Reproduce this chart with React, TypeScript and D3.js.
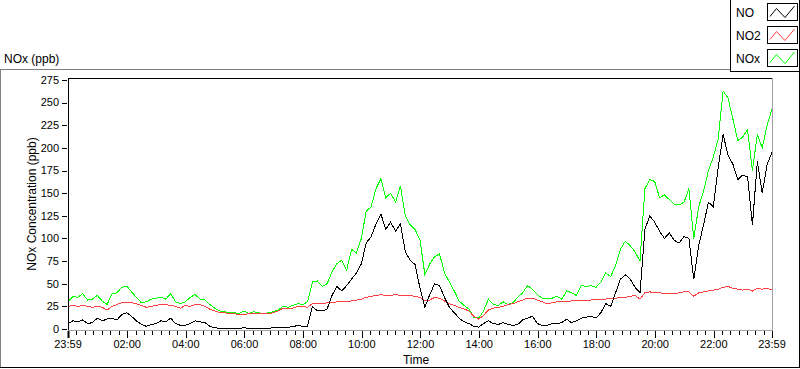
import React from 'react';
import * as d3 from 'd3';

// readings every 10 minutes, from 23:59 the day before to 23:59
const sampleMinutes = 10;
const startTime = new Date(2024, 0, 1, 23, 59);
const endTime = new Date(2024, 0, 2, 23, 59);

const noValues = [
  6, 9, 8, 10, 6, 7, 12, 9, 11, 12, 10, 16, 18, 14, 9, 5, 3, 5, 6, 9, 8, 12, 6, 4, 4,
  6, 9, 8, 7, 3, 1.5, 0.5, 0.3, 0.3, 0.3, 0.5, 1.5, 0.3, 0.3, 0.3, 0.5, 0.5, 1.5, 1.5, 2, 2, 2.5, 4, 3,
  3, 25, 20, 20, 22, 37, 47, 42, 48, 55, 62, 72, 95, 102, 116, 127, 110, 118, 108, 116, 85, 76, 71, 45, 24, 38,
  50, 48, 35, 24, 18, 12, 8, 6, 3, 2, 6, 9, 6, 5, 7, 5, 4, 5, 10, 12, 14, 6, 4, 4,
  6, 6, 7, 11, 7, 9, 12, 13, 14, 12, 18, 28, 25, 40, 55, 60, 55, 46, 40, 110, 125, 118, 108, 100, 106,
  98, 95, 102, 100, 55, 92, 115, 140, 135, 178, 215, 192, 182, 165, 170, 168, 115, 185, 150, 182, 195,
];

const no2Values = [
  25, 26, 25, 26, 25, 24, 25, 24, 21, 25, 27, 29, 29, 29, 28, 26, 24, 25, 26, 27, 27, 26, 25, 23, 26,
  25, 27, 27, 25, 22, 20, 18, 18, 17, 17, 16, 16, 17, 17, 17, 17, 17, 18, 20, 23, 23, 23, 25, 25,
  24, 28, 28, 28, 29, 29, 30, 30, 30, 31, 32, 33, 35, 36, 37, 38, 37, 37, 38, 37, 37, 37, 36, 35, 31, 32,
  35, 34, 31, 28, 26, 24, 22, 20, 14, 11, 15, 21, 23, 24, 25, 27, 28, 30, 32, 34, 34, 32, 30, 28,
  29, 30, 30, 30, 31, 31, 32, 32, 32, 33, 33, 33, 34, 34, 35, 35, 36, 37, 33, 40, 41, 40, 40, 39, 39,
  39, 40, 41, 41, 36, 40, 41, 42, 43, 44, 46, 47, 45, 44, 43, 44, 42, 45, 44, 45, 43,
];

const noxValues = [
  30, 36, 35, 39, 32, 33, 37, 31, 27, 39, 40, 46, 47.5, 41, 35, 29, 30, 33, 34, 35, 33, 39, 30, 28, 30,
  35, 38, 33, 32, 27, 23, 20, 19, 18, 18, 17, 20, 17, 19, 18, 17, 18, 19, 21, 25, 24, 26, 28, 27,
  30, 52, 53, 47, 50, 63, 72, 76, 65, 88, 84, 100, 130, 135, 155, 166, 145, 150, 140, 158, 125, 115, 110, 98, 60, 72,
  80, 83, 62, 52, 42, 31, 26, 22, 13, 12, 20, 33, 27, 26, 30, 27, 29, 35, 40, 48, 44, 38, 34, 34,
  34, 36, 33, 42, 40, 37, 48, 47, 48, 46, 52, 62, 58, 70, 88, 97, 92, 85, 75, 155, 165, 163, 145, 148, 143,
  138, 137, 140, 155, 100, 135, 152, 175, 190, 210, 263, 255, 232, 208, 212, 220, 175, 215, 200, 225, 243,
];

const yTicks = [0, 25, 50, 75, 100, 125, 150, 175, 200, 225, 250, 275];
const xTickLabels = ['23:59', '02:00', '04:00', '06:00', '08:00', '10:00', '12:00', '14:00', '16:00', '18:00', '20:00', '22:00', '23:59'];

const seriesNames = ['NO', 'NO2', 'NOx'];
const seriesColors = ['#000000', '#ff4040', '#00ff00'];

const font = '"Liberation Sans", Arial, sans-serif';

export default function App() {
  const plot = { left: 68, right: 772, top: 78, bottom: 330 };

  const x = d3.scaleTime().domain([startTime, endTime]).range([plot.left, plot.right]);
  const y = d3.scaleLinear().domain([0, 275]).range([329, 80]);

  const timeAt = (i: number) => d3.timeMinute.offset(startTime, i * sampleMinutes);
  const line = d3.line<number>()
    .x((_, i) => x(timeAt(i)))
    .y(d => y(d));

  // major ticks: first and last are the window ends, the rest are clock times
  const majorTimes = xTickLabels.map((lab, i) => {
    if (i === 0) return startTime;
    if (i === xTickLabels.length - 1) return endTime;
    const [h, m] = lab.split(':').map(Number);
    return new Date(2024, 0, 2, h, m);
  });
  const minorTimes: Date[] = [];
  for (let k = 0; k < majorTimes.length - 1; k++) {
    const a = +majorTimes[k], b = +majorTimes[k + 1];
    for (let j = 1; j < 7; j++) minorTimes.push(new Date(a + (b - a) * j / 7));
  }

  // NOx underneath, then NO2, NO on top
  const series = [noxValues, no2Values, noValues];
  const colorsDrawn = [seriesColors[2], seriesColors[1], seriesColors[0]];

  return (
    <svg width={800} height={369} style={{ position: 'fixed', left: 0, top: 0, display: 'block', background: '#fff' }}
      fontFamily={font}>
      <defs>
        <clipPath id="plotClip">
          <rect x={plot.left} y={plot.top} width={plot.right - plot.left} height={plot.bottom - plot.top} />
        </clipPath>
      </defs>

      {/* outer frame */}
      <line x1={0} y1={69.5} x2={730} y2={69.5} stroke="#808080" />
      <line x1={0.5} y1={69} x2={0.5} y2={367} stroke="#808080" />
      <line x1={0} y1={367.5} x2={800} y2={367.5} stroke="#000" />
      <line x1={799.5} y1={0} x2={799.5} y2={368} stroke="#000" />

      <text x={4} y={63} fontSize={12} fill="#000">NOx (ppb)</text>

      {/* legend */}
      <line x1={730.5} y1={0} x2={730.5} y2={72} stroke="#000" />
      <line x1={730} y1={71.5} x2={800} y2={71.5} stroke="#000" />
      {seriesNames.map((name, i) => {
        const top = 3 + i * 23;
        return (
          <g key={name}>
            <text x={736} y={top + 14} fontSize={12} fill="#000">{name}</text>
            <rect x={767.5} y={top + 0.5} width={30} height={17} fill="#fff" stroke="#000" />
            <polyline
              points={`770,${top + 13.5} 776.5,${top + 5.5} 785,${top + 14.5} 794.5,${top + 3}`}
              fill="none" stroke={seriesColors[i]} />
          </g>
        );
      })}

      {/* plot area */}
      <g clipPath="url(#plotClip)">
        {series.map((vals, i) => (
          <path key={i} d={line(vals) ?? ''} fill="none" stroke={colorsDrawn[i]} strokeWidth={1}
            shapeRendering="crispEdges" />
        ))}
      </g>
      <line x1={plot.left} y1={plot.top + 0.5} x2={plot.right} y2={plot.top + 0.5} stroke="#000" />
      <line x1={plot.left + 0.5} y1={plot.top} x2={plot.left + 0.5} y2={plot.bottom} stroke="#000" />
      <line x1={plot.right + 0.5} y1={plot.top} x2={plot.right + 0.5} y2={plot.bottom + 1} stroke="#a0a0a0" />
      <line x1={plot.left} y1={plot.bottom + 0.5} x2={plot.right} y2={plot.bottom + 0.5} stroke="#a0a0a0" />

      {/* y axis */}
      {yTicks.map(t => (
        <g key={t}>
          <line x1={62} y1={Math.round(y(t)) + 0.5} x2={67} y2={Math.round(y(t)) + 0.5} stroke="#000" />
          <text x={59} y={y(t)} dy="0.35em" textAnchor="end" fontSize={11} fill="#000">{t}</text>
        </g>
      ))}
      <text transform={`translate(36,${(plot.top + plot.bottom) / 2}) rotate(-90)`} textAnchor="middle"
        fontSize={12} fill="#000">NOx Concentration (ppb)</text>

      {/* x axis */}
      {minorTimes.map((t, i) => (
        <line key={'m' + i} x1={Math.round(x(t)) + 0.5} y1={331} x2={Math.round(x(t)) + 0.5} y2={335} stroke="#000" />
      ))}
      {majorTimes.map((t, i) => (
        <g key={'M' + i}>
          <line x1={Math.round(x(t)) + 0.5} y1={331} x2={Math.round(x(t)) + 0.5} y2={338} stroke="#000" strokeWidth={i === 0 ? 2 : 1} />
          <text x={x(t)} y={348} textAnchor="middle" fontSize={11} fill="#000">{xTickLabels[i]}</text>
        </g>
      ))}
      <text x={416} y={364} textAnchor="middle" fontSize={12} fill="#000">Time</text>
    </svg>
  );
}
